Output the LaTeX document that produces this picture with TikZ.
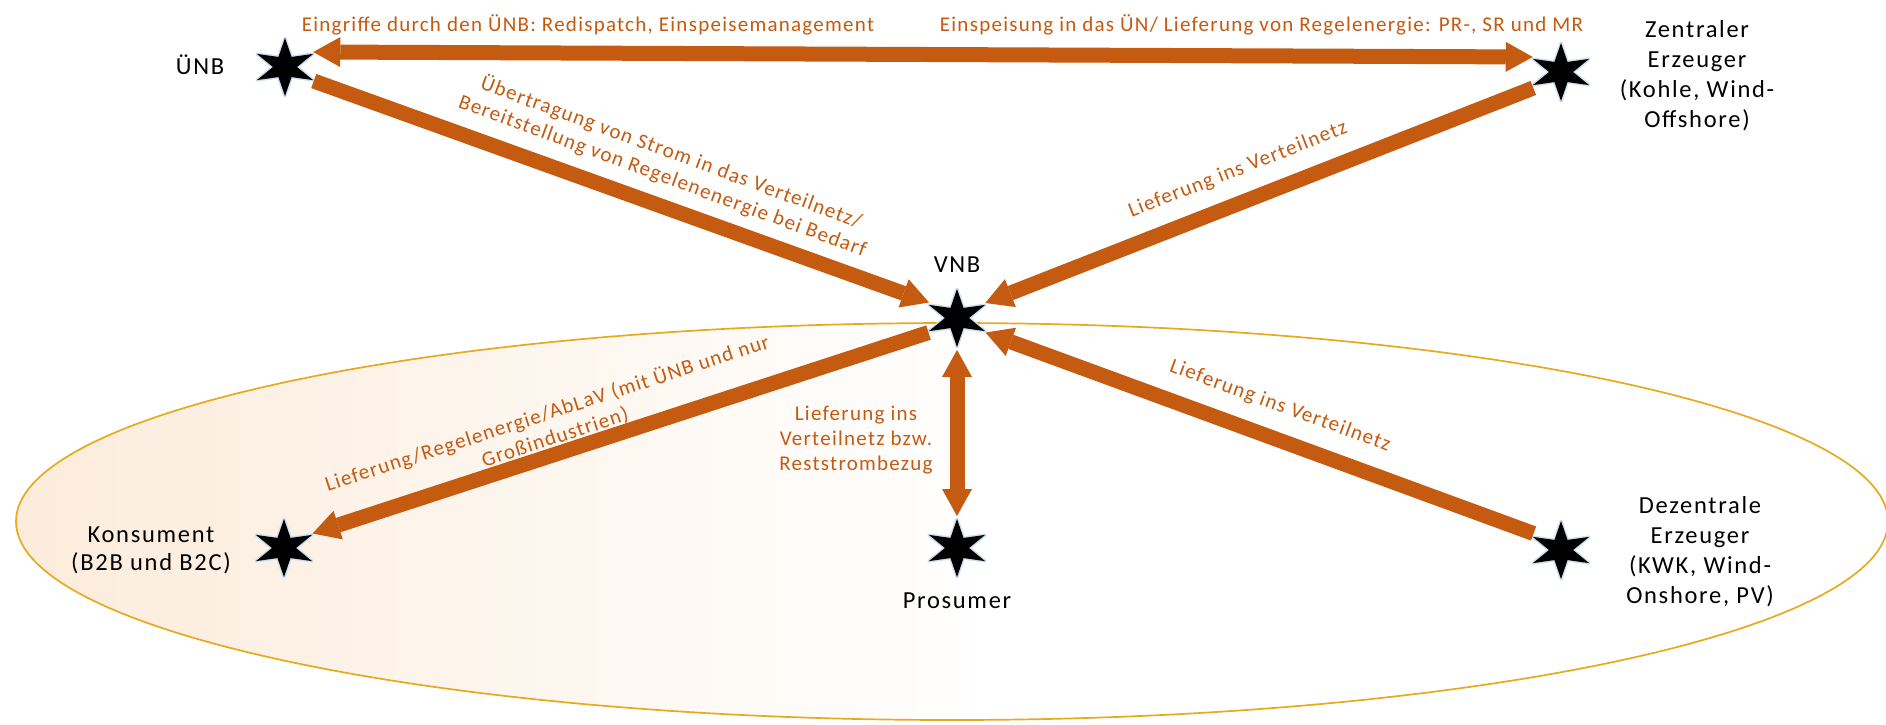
\documentclass[tikz,border=0pt]{standalone}
\usepackage{fontspec}
\setmainfont{Carlito}
\newfontfamily\lblfont[LetterSpace=7]{Carlito}
\newfontfamily\arrfont[LetterSpace=6]{Carlito}
\usetikzlibrary{arrows.meta}
\definecolor{arrorange}{RGB}{197,90,17}
\definecolor{ringgold}{RGB}{230,170,30}
\definecolor{tint}{RGB}{252,236,220}
\definecolor{starglow}{RGB}{205,224,240}
\tikzset{
  hub/.style={circle, minimum size=64pt, inner sep=0pt, outer sep=0pt},
  lbl/.style={font=\lblfont\fontsize{24.5}{30}\selectfont, align=center, text=black, inner sep=0pt},
  alb/.style={font=\arrfont\fontsize{21}{25}\selectfont, align=center, text=arrorange, inner sep=0pt},
  flow/.style={draw=arrorange, line width=15pt, -{Triangle[width=30pt,length=27pt,line width=0pt]}},
  flowboth/.style={draw=arrorange, line width=15pt, {Triangle[width=30pt,length=27pt,line width=0pt]}-{Triangle[width=30pt,length=27pt,line width=0pt]}},
  sixstar/.pic={
    \draw[starglow, line width=3pt, line join=round] (90:29) -- (57:12) -- (25:31) -- (0:12) -- (-25:31) -- (-57:12) -- (-90:29) -- (-123:12) -- (-155:31) -- (180:12) -- (155:31) -- (123:12) -- cycle;
    \fill[black] (90:29) -- (57:12) -- (25:31) -- (0:12) -- (-25:31) -- (-57:12) -- (-90:29) -- (-123:12) -- (-155:31) -- (180:12) -- (155:31) -- (123:12) -- cycle;
  }
}
\begin{document}
\begin{tikzpicture}[x=1pt,y=-1pt]
\useasboundingbox (0,0) rectangle (1886,724);
\fill[white] (0,0) rectangle (1886,724);
% ring: pale orange on the left fading to white towards the middle
\begin{scope}
\clip (952,521.5) ellipse [x radius=936pt, y radius=198.5pt];
\foreach \i in {0,...,47} {
  \pgfmathsetmacro\p{100*(1-\i/48)}
  \fill[tint!\p!white] ({16+\i*20},300) rectangle ({16+\i*20+21},730);
}
\end{scope}
\begin{scope}
\clip (0,0) rectangle (1886,724);
\draw[ringgold, line width=1.7pt] (952,521.5) ellipse [x radius=936pt, y radius=198.5pt];
\end{scope}

% stations
\node[hub] (unb) at (285,67) {};
\node[hub] (zen) at (1561,72) {};
\node[hub] (vnb) at (957,318) {};
\node[hub] (kon) at (284,548) {};
\node[hub] (pro) at (957,548) {};
\node[hub] (dez) at (1561,550) {};
\foreach \n in {unb,zen,vnb,kon,pro,dez} \pic at (\n) {sixstar};

% connectors
\draw[flowboth] (unb.28) -- (zen.152);
\draw[flow] (unb.-26) -- (vnb.151);
\draw[flow] (zen.-150) -- (vnb.28);
\draw[flow] (vnb.-153) -- (kon.27);
\draw[flowboth] (vnb.-90) -- (pro.90);
\draw[flow] (dez.149) -- (vnb.-27);

% station labels
\node[lbl, anchor=base] (unbl) at (200,74) {ÜNB};
\node[lbl, anchor=base] (vnbl) at (957,272) {VNB};
\node[lbl, anchor=base] (prol) at (957,608) {Prosumer};
\node[lbl] (zenl) at (1697,76) {Zentraler\\Erzeuger\\(Kohle, Wind-\\Offshore)};
\node[lbl] (dezl) at (1700,552) {Dezentrale\\Erzeuger\\(KWK, Wind-\\Onshore, PV)};
\node[lbl, font=\lblfont\fontsize{24.5}{28}\selectfont] (konl) at (151,550) {Konsument\\(B2B und B2C)};

% connector labels
\node[alb, anchor=base] (l1) at (588,31.5) {Eingriffe durch den ÜNB: Redispatch, Einspeisemanagement};
\node[alb, anchor=base] (l2) at (1261.5,31.5) {Einspeisung in das ÜN/ Lieferung von Regelenergie: PR-, SR und MR};
\node[alb, rotate=-20.2] (l3) at (667,164) {Übertragung von Strom in das Verteilnetz/\\Bereitstellung von Regelenenergie bei Bedarf};
\node[alb, rotate=21.4] (l4) at (1238,170) {Lieferung ins Verteilnetz};
\node[alb, rotate=18] (l5) at (551,425) {Lieferung/Regelenergie/AbLaV (mit ÜNB und nur\\Großindustrien)};
\node[alb, rotate=-20] (l6) at (1280,406) {Lieferung ins Verteilnetz};
\node[alb] (l7) at (856,440) {Lieferung ins\\Verteilnetz bzw.\\Reststrombezug};
\end{tikzpicture}
\end{document}
